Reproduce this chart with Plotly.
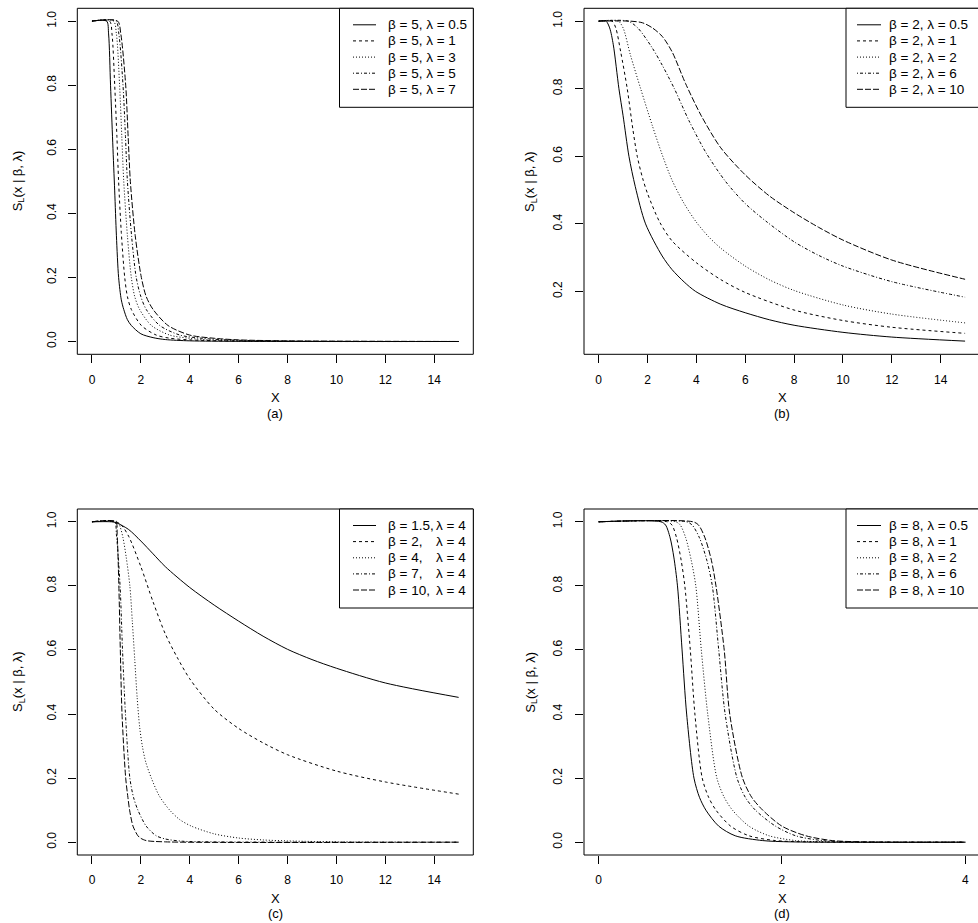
import plotly.graph_objects as go

W, H = 978, 923

# ---------------- data ----------------
# Panel (a): beta = 5
a_x_l05 = [0, 0.6, 0.68, 0.76, 0.85, 0.93, 1.0, 1.09, 1.2, 1.3, 1.45, 1.61, 2.0, 2.5, 3.0, 4.0, 6.0, 15]
a_y_l05 = [1, 1, 0.96, 0.8, 0.62, 0.47, 0.33, 0.2, 0.13, 0.1, 0.068, 0.05, 0.024, 0.012, 0.006, 0.002, 0.0005, 0]
a_x_l1 = [0, 0.72, 0.82, 0.93, 1.02, 1.09, 1.2, 1.34, 1.45, 1.61, 2.02, 2.63, 3.2, 4.0, 6.0, 15]
a_y_l1 = [1, 1, 0.96, 0.8, 0.64, 0.5, 0.34, 0.2, 0.14, 0.1, 0.05, 0.02, 0.01, 0.005, 0.001, 0]
a_x_l3 = [0, 0.88, 1.0, 1.13, 1.22, 1.3, 1.45, 1.61, 1.75, 1.95, 2.43, 3.18, 4.0, 5.0, 7.0, 15]
a_y_l3 = [1, 1, 0.96, 0.8, 0.64, 0.5, 0.33, 0.2, 0.14, 0.1, 0.05, 0.02, 0.01, 0.004, 0.001, 0]
a_x_l5 = [0, 0.98, 1.1, 1.27, 1.37, 1.45, 1.62, 1.81, 2.0, 2.22, 2.77, 3.6, 4.5, 5.5, 8.0, 15]
a_y_l5 = [1, 1, 0.96, 0.8, 0.64, 0.5, 0.33, 0.2, 0.14, 0.1, 0.05, 0.02, 0.01, 0.005, 0.001, 0]
a_x_l7 = [0, 1.05, 1.18, 1.38, 1.48, 1.57, 1.77, 2.02, 2.22, 2.5, 3.11, 4.0, 5.0, 6.0, 8.0, 15]
a_y_l7 = [1, 1, 0.96, 0.8, 0.64, 0.5, 0.33, 0.2, 0.14, 0.1, 0.05, 0.02, 0.01, 0.005, 0.002, 0]

# Panel (b): beta = 2
b_x_l05 = [0, 0.3, 0.45, 0.6, 0.83, 1.0, 1.24, 1.5, 1.92, 2.6, 3.0, 3.5, 3.97, 5, 6, 7, 8, 10, 12, 15]
b_y_l05 = [1, 1, 0.98, 0.93, 0.8, 0.72, 0.6, 0.51, 0.4, 0.305, 0.265, 0.228, 0.2, 0.162, 0.137, 0.116, 0.1, 0.079, 0.065, 0.053]
b_x_l1 = [0, 0.55, 0.7, 0.9, 1.17, 1.4, 1.58, 1.8, 2.0, 2.5, 3.0, 4.0, 5, 6, 8, 10, 12, 15]
b_y_l1 = [1, 1, 0.98, 0.91, 0.8, 0.68, 0.6, 0.535, 0.49, 0.405, 0.35, 0.285, 0.235, 0.197, 0.145, 0.114, 0.094, 0.076]
b_x_l2 = [0, 0.8, 1.0, 1.3, 1.72, 2.2, 2.6, 3.0, 3.5, 4.0, 4.5, 5, 6, 7, 8, 10, 12, 15]
b_y_l2 = [1, 1, 0.98, 0.9, 0.8, 0.69, 0.605, 0.53, 0.46, 0.405, 0.362, 0.328, 0.275, 0.234, 0.203, 0.16, 0.133, 0.107]
b_x_l6 = [0, 1.2, 1.6, 2.2, 2.6, 3.1, 3.7, 4.4, 5.2, 6.0, 6.9, 8, 9, 10, 12, 15]
b_y_l6 = [1, 1, 0.98, 0.92, 0.87, 0.8, 0.705, 0.61, 0.525, 0.46, 0.405, 0.347, 0.307, 0.275, 0.229, 0.183]
b_x_l10 = [0, 1.3, 1.8, 2.2, 2.6, 3.0, 3.56, 4.2, 5.0, 6, 7, 8, 9, 10, 12, 15]
b_y_l10 = [1, 1, 0.995, 0.98, 0.955, 0.91, 0.815, 0.72, 0.625, 0.545, 0.482, 0.433, 0.39, 0.352, 0.293, 0.236]

# Panel (c): lambda = 4
c_x_b15 = [0, 0.8, 1.0, 1.5, 2, 2.5, 3, 4, 5, 6, 7, 8, 9, 10, 12, 15]
c_y_b15 = [1, 1, 0.997, 0.976, 0.94, 0.9, 0.86, 0.795, 0.74, 0.69, 0.643, 0.602, 0.57, 0.543, 0.497, 0.452]
c_x_b2 = [0, 0.95, 1.2, 1.5, 2, 2.5, 3, 3.5, 4, 5, 6, 7, 8, 10, 12, 15]
c_y_b2 = [1, 1, 0.99, 0.955, 0.86, 0.75, 0.65, 0.575, 0.51, 0.415, 0.355, 0.31, 0.273, 0.222, 0.188, 0.15]
c_x_b4 = [0, 1.05, 1.15, 1.27, 1.4, 1.55, 1.65, 1.75, 1.85, 1.95, 2.06, 2.2, 2.43, 2.75, 3.18, 3.6, 4.07, 5, 6, 7, 8, 10, 15]
c_y_b4 = [1, 1, 0.985, 0.95, 0.89, 0.8, 0.69, 0.57, 0.45, 0.36, 0.3, 0.25, 0.2, 0.145, 0.1, 0.07, 0.05, 0.026, 0.013, 0.007, 0.004, 0.001, 0]
c_x_b7 = [0, 0.92, 1.0, 1.15, 1.25, 1.37, 1.55, 1.7, 1.88, 2.22, 2.63, 3.0, 3.7, 5.0, 15]
c_y_b7 = [1, 1, 0.96, 0.8, 0.6, 0.4, 0.2, 0.14, 0.1, 0.05, 0.02, 0.01, 0.003, 0.001, 0]
c_x_b10 = [0, 0.97, 1.03, 1.1, 1.16, 1.23, 1.38, 1.47, 1.54, 1.68, 1.88, 2.0, 2.22, 3.0, 15]
c_y_b10 = [1, 1, 0.96, 0.8, 0.6, 0.4, 0.2, 0.14, 0.1, 0.05, 0.02, 0.012, 0.005, 0.001, 0]

# Panel (d): beta = 8
d_x_l05 = [0, 0.68, 0.73, 0.78, 0.82, 0.86, 0.91, 0.96, 1.04, 1.1, 1.17, 1.31, 1.49, 1.79, 2.1, 4]
d_y_l05 = [1, 1, 0.99, 0.95, 0.89, 0.8, 0.6, 0.4, 0.2, 0.14, 0.1, 0.05, 0.02, 0.005, 0.001, 0]
d_x_l1 = [0, 0.75, 0.8, 0.85, 0.9, 0.94, 1.0, 1.05, 1.13, 1.2, 1.28, 1.44, 1.64, 1.93, 2.3, 4]
d_y_l1 = [1, 1, 0.99, 0.95, 0.88, 0.8, 0.6, 0.4, 0.2, 0.14, 0.1, 0.05, 0.02, 0.005, 0.001, 0]
d_x_l2 = [0, 0.84, 0.89, 0.95, 1.01, 1.06, 1.12, 1.19, 1.29, 1.37, 1.46, 1.64, 1.86, 2.15, 2.5, 4]
d_y_l2 = [1, 1, 0.99, 0.95, 0.88, 0.8, 0.6, 0.4, 0.2, 0.14, 0.1, 0.05, 0.02, 0.005, 0.001, 0]
d_x_l6 = [0, 0.96, 1.02, 1.1, 1.18, 1.24, 1.31, 1.38, 1.51, 1.6, 1.71, 1.93, 2.15, 2.44, 2.8, 4]
d_y_l6 = [1, 1, 0.99, 0.95, 0.88, 0.8, 0.6, 0.4, 0.2, 0.14, 0.1, 0.05, 0.02, 0.005, 0.001, 0]
d_x_l10 = [0, 1.03, 1.09, 1.16, 1.23, 1.28, 1.37, 1.43, 1.57, 1.67, 1.79, 2.0, 2.26, 2.55, 2.9, 4]
d_y_l10 = [1, 1, 0.99, 0.95, 0.88, 0.8, 0.6, 0.4, 0.2, 0.14, 0.1, 0.05, 0.02, 0.005, 0.001, 0]

a_labels = ["β = 5, λ = 0.5", "β = 5, λ = 1", "β = 5, λ = 3", "β = 5, λ = 5", "β = 5, λ = 7"]
b_labels = ["β = 2, λ = 0.5", "β = 2, λ = 1", "β = 2, λ = 2", "β = 2, λ = 6", "β = 2, λ = 10"]
c_beta_labels = ["β = 1.5,", "β = 2,", "β = 4,", "β = 7,", "β = 10,"]
c_lam_labels = ["λ = 4", "λ = 4", "λ = 4", "λ = 4", "λ = 4"]
d_labels = ["β = 8, λ = 0.5", "β = 8, λ = 1", "β = 8, λ = 2", "β = 8, λ = 6", "β = 8, λ = 10"]

x_ticks_wide = [0, 2, 4, 6, 8, 10, 12, 14]
x_ticks_d = [0, 2, 4]
y_ticks = [0.0, 0.2, 0.4, 0.6, 0.8, 1.0]
y_ticks_b = [0.2, 0.4, 0.6, 0.8, 1.0]

# ---------------- styling ----------------
DASHES = ["solid", "3px,3px", "1px,2px", "1px,2px,3px,2px", "6px,2px"]
FONT = "Liberation Sans, Arial, Helvetica, sans-serif"
LEG_SIZE = 13.5

def px(xp):
    return xp / W

def py(yp):
    return 1 - yp / H

fig = go.Figure()

panels = [
    ("x", "y", [(a_x_l05, a_y_l05), (a_x_l1, a_y_l1), (a_x_l3, a_y_l3), (a_x_l5, a_y_l5), (a_x_l7, a_y_l7)]),
    ("x2", "y2", [(b_x_l05, b_y_l05), (b_x_l1, b_y_l1), (b_x_l2, b_y_l2), (b_x_l6, b_y_l6), (b_x_l10, b_y_l10)]),
    ("x3", "y3", [(c_x_b15, c_y_b15), (c_x_b2, c_y_b2), (c_x_b4, c_y_b4), (c_x_b7, c_y_b7), (c_x_b10, c_y_b10)]),
    ("x4", "y4", [(d_x_l05, d_y_l05), (d_x_l1, d_y_l1), (d_x_l2, d_y_l2), (d_x_l6, d_y_l6), (d_x_l10, d_y_l10)]),
]
for xa, ya, curves in panels:
    for i, (xs, ys) in enumerate(curves):
        fig.add_trace(go.Scatter(x=xs, y=ys, xaxis=xa, yaxis=ya, mode="lines",
                                 line=dict(color="black", width=1, dash=DASHES[i], shape="spline", smoothing=0.8),
                                 showlegend=False, hoverinfo="skip"))

# plot-region geometry (pixels)
L_LEFT, L_RIGHT = 77.3, 473.3
R_LEFT = 584.0
TOP_T, TOP_B = 8.3, 354.3
BOT_T, BOT_B = 509.0, 855.0

tick_common = dict(ticks="outside", ticklen=8, tickcolor="black", tickwidth=1,
                   showgrid=False, zeroline=False, showline=False,
                   tickfont=dict(family=FONT, size=12, color="black"),
                   ticklabelstandoff=6)

def xax(domain, rng, vals, anchor):
    d = dict(domain=domain, range=rng, tickvals=vals, ticktext=[str(v) for v in vals], anchor=anchor)
    d.update(tick_common)
    return d

def yax(domain, rng, vals, anchor):
    d = dict(domain=domain, range=rng, tickvals=vals, ticktext=["%.1f" % v for v in vals],
             tickangle=-90, anchor=anchor)
    d.update(tick_common)
    d["ticklabelstandoff"] = 8
    return d

x_right_wide = -0.6 + (W - R_LEFT) / (342 / 14)
x_right_d = -0.16 + (W - R_LEFT) / (366.6 / 4)

fig.update_layout(
    width=W, height=H, margin=dict(l=0, r=0, t=0, b=0),
    paper_bgcolor="white", plot_bgcolor="white",
    xaxis=xax([px(L_LEFT), px(L_RIGHT)], [-0.6, 15.6], x_ticks_wide, "y"),
    yaxis=yax([py(TOP_B), py(TOP_T)], [-0.04, 1.04], y_ticks, "x"),
    xaxis2=xax([px(R_LEFT), 1], [-0.6, x_right_wide], x_ticks_wide, "y2"),
    yaxis2=yax([py(TOP_B), py(TOP_T)], [0.014, 1.038], y_ticks_b, "x2"),
    xaxis3=xax([px(L_LEFT), px(L_RIGHT)], [-0.6, 15.6], x_ticks_wide, "y3"),
    yaxis3=yax([py(BOT_B), py(BOT_T)], [-0.04, 1.04], y_ticks, "x3"),
    xaxis4=xax([px(R_LEFT), 1], [-0.16, x_right_d], x_ticks_d, "y4"),
    yaxis4=yax([py(BOT_B), py(BOT_T)], [-0.04, 1.04], y_ticks, "x4"),
)

shapes = []
annotations = []

# plot boxes
for (x0, x1, y0, y1) in [(L_LEFT, L_RIGHT, TOP_T, TOP_B), (R_LEFT, W + 10, TOP_T, TOP_B),
                         (L_LEFT, L_RIGHT, BOT_T, BOT_B), (R_LEFT, W + 10, BOT_T, BOT_B)]:
    shapes.append(dict(type="rect", xref="paper", yref="paper", x0=px(x0), x1=px(x1),
                       y0=py(y1), y1=py(y0), line=dict(color="black", width=1), fillcolor="rgba(0,0,0,0)"))

# axis titles
for cx, ytitle_x, top, bot, xt_y, sub_y, sub in [
        (275.3, 18, TOP_T, TOP_B, 397.3, 413.3, "(a)"),
        (782.0, 530.7, TOP_T, TOP_B, 397.3, 413.3, "(b)"),
        (275.3, 18, BOT_T, BOT_B, 898.5, 913.3, "(c)"),
        (782.0, 530.7, BOT_T, BOT_B, 898.5, 913.3, "(d)")]:
    annotations.append(dict(text="X", x=px(cx), y=py(xt_y), xref="paper", yref="paper",
                            showarrow=False, xanchor="center", yanchor="middle",
                            font=dict(family=FONT, size=13, color="black")))
    annotations.append(dict(text=sub, x=px(cx), y=py(sub_y), xref="paper", yref="paper",
                            showarrow=False, xanchor="center", yanchor="middle",
                            font=dict(family=FONT, size=13, color="black")))
    annotations.append(dict(text="S<sub>L</sub>(x | β, λ)", x=px(ytitle_x), y=py((top + bot) / 2),
                            xref="paper", yref="paper", showarrow=False, textangle=-90,
                            xanchor="center", yanchor="middle",
                            font=dict(family=FONT, size=13, color="black")))

# legends
ROW_OFF = [16.5, 32.6, 48.8, 64.9, 81.0]
def legend(box_x0, box_x1, top, samp0, samp1, text_x, labels, lam_labels=None, lam_x=None):
    shapes.append(dict(type="rect", xref="paper", yref="paper", x0=px(box_x0), x1=px(box_x1),
                       y0=py(top + 99), y1=py(top), line=dict(color="black", width=1),
                       fillcolor="white"))
    for i, lab in enumerate(labels):
        yy = top + ROW_OFF[i]
        shapes.append(dict(type="line", xref="paper", yref="paper", x0=px(samp0), x1=px(samp1),
                           y0=py(yy), y1=py(yy), line=dict(color="black", width=1, dash=DASHES[i])))
        annotations.append(dict(text=lab, x=px(text_x), y=py(yy), xref="paper", yref="paper",
                                showarrow=False, xanchor="left", yanchor="middle",
                                font=dict(family=FONT, size=LEG_SIZE, color="black")))
        if lam_labels:
            annotations.append(dict(text=lam_labels[i], x=px(lam_x), y=py(yy), xref="paper", yref="paper",
                                    showarrow=False, xanchor="left", yanchor="middle",
                                    font=dict(family=FONT, size=LEG_SIZE, color="black")))

legend(339.5, L_RIGHT, TOP_T, 353, 376, 386, a_labels)
legend(846, W + 10, TOP_T, 857, 881, 887, b_labels)
legend(339.5, L_RIGHT, BOT_T, 353, 376, 386, c_beta_labels, c_lam_labels, 434)
legend(846, W + 10, BOT_T, 857, 881, 887, d_labels)

fig.update_layout(shapes=shapes, annotations=annotations)
fig.write_html("out.html", config={"displayModeBar": False, "staticPlot": True},
               post_script="document.body.style.margin='0px';document.body.style.overflow='hidden';")
